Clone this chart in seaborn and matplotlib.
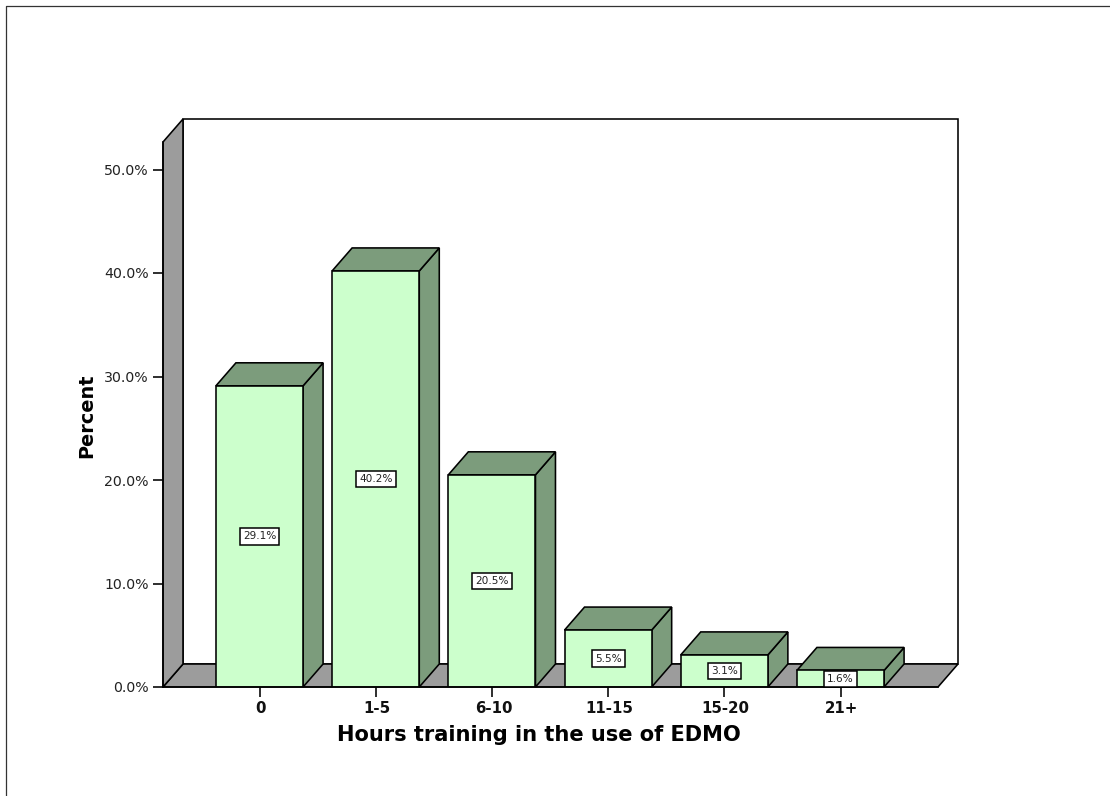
import matplotlib
matplotlib.use("Agg")
import matplotlib.pyplot as plt
from matplotlib.lines import Line2D
from matplotlib.transforms import ScaledTranslation
import pandas as pd
import seaborn as sns

# Survey results: share of respondents per band of training hours
hour_bands = ["0", "1-5", "6-10", "11-15", "15-20", "21+"]
percent_values = [29.1, 40.2, 20.5, 5.5, 3.1, 1.6]
y_tick_values = [0, 10, 20, 30, 40, 50]
x_axis_label = "Hours training in the use of EDMO"
y_axis_label = "Percent"

FRONT = "#CCFFCC"
SHADE = "#7C9C7C"
WALL = "#9C9C9C"
EDGE = "#000000"
LW = 1.15

W, H = 1110, 796
sns.set_theme(style="ticks")
plt.rcParams["font.family"] = ["DejaVu Sans"]

fig = plt.figure(figsize=(W / 100, H / 100), dpi=100, facecolor="white")
# Front plane of the pseudo-3D box, in pixels: x 163-938, y 142-687
ax = fig.add_axes([163 / W, 1 - 687 / H, 775 / W, 545 / H], facecolor="none")

frame = pd.DataFrame({"band": hour_bands, "percent": percent_values})
sns.barplot(data=frame, x="band", y="percent", order=hour_bands, color=FRONT,
            saturation=1, width=0.75, edgecolor=EDGE, linewidth=LW, ax=ax, zorder=3)

unit_x = 116.2
unit_y = 10.35
ax.set_xlim(-(259.5 - 163) / unit_x, 5 + (938 - 840.5) / unit_x)
ax.set_ylim(0, 545 / unit_y)
depth_x = 20 / unit_x
depth_y = 23 / unit_y

x0, x1 = ax.get_xlim()
y0, y1 = ax.get_ylim()

# Back wall, floor and left side wall
ax.fill([x0 + depth_x, x1 + depth_x, x1 + depth_x, x0 + depth_x],
        [y0 + depth_y, y0 + depth_y, y1 + depth_y, y1 + depth_y],
        facecolor="white", edgecolor=EDGE, linewidth=LW, zorder=0.5, clip_on=False)
ax.fill([x0, x1, x1 + depth_x, x0 + depth_x],
        [y0, y0, y0 + depth_y, y0 + depth_y],
        facecolor=WALL, edgecolor=EDGE, linewidth=LW, zorder=0.6, clip_on=False)
ax.fill([x0, x0 + depth_x, x0 + depth_x, x0],
        [y0, y0 + depth_y, y1 + depth_y, y1],
        facecolor=WALL, edgecolor=EDGE, linewidth=LW, zorder=0.6, clip_on=False)

# Top and side faces extruded from each bar
for bar in ax.patches[:len(percent_values)]:
    left, width, top = bar.get_x(), bar.get_width(), bar.get_height()
    right = left + width
    ax.fill([right, right + depth_x, right + depth_x, right],
            [0, depth_y, top + depth_y, top],
            facecolor=SHADE, edgecolor=EDGE, linewidth=LW, zorder=2, clip_on=False)
    ax.fill([left, right, right + depth_x, left + depth_x],
            [top, top, top + depth_y, top + depth_y],
            facecolor=SHADE, edgecolor=EDGE, linewidth=LW, zorder=2, clip_on=False)
    ax.text(left + width / 2, top / 2, f"{top:.1f}%", ha="center", va="center",
            fontsize=7.6, color="#222222", zorder=5,
            bbox=dict(boxstyle="square,pad=0.3", facecolor="white", edgecolor=EDGE, linewidth=1.1))

ax.set_yticks(y_tick_values)
ax.set_yticklabels([f"{v:.1f}%" for v in y_tick_values])
ax.tick_params(axis="y", length=7.2, width=LW, pad=3.2, labelsize=10.2, color=EDGE, labelcolor="#222222")
ax.tick_params(axis="x", length=7.2, width=LW, pad=3, labelsize=10.8, color=EDGE, labelcolor="#111111")
shift_right = ScaledTranslation(1.5 / 100, 0, fig.dpi_scale_trans)
for lab in ax.get_xticklabels():
    lab.set_fontweight("bold")
    lab.set_transform(lab.get_transform() + shift_right)

ax.set_xlabel("")
ax.set_ylabel("")
sns.despine(ax=ax, top=True, right=True)
for side in ("left", "bottom"):
    ax.spines[side].set_linewidth(LW)
    ax.spines[side].set_color(EDGE)
    ax.spines[side].set_zorder(4)

fig.text(539 / W, 1 - 735 / H, x_axis_label, ha="center", va="center",
         fontsize=15.1, fontweight="bold", color="black")
fig.text(87 / W, 1 - 416 / H, y_axis_label, ha="center", va="center", rotation=90,
         fontsize=13.9, fontweight="bold", color="black")

# Chart frame: only the left and top edges fall inside the canvas
fig.add_artist(Line2D([6.2 / W, 6.2 / W, 1], [0, 1 - 5.8 / H, 1 - 5.8 / H],
                      transform=fig.transFigure, color="#333333", linewidth=0.9))

fig.savefig("out.png", dpi=100, facecolor="white")
